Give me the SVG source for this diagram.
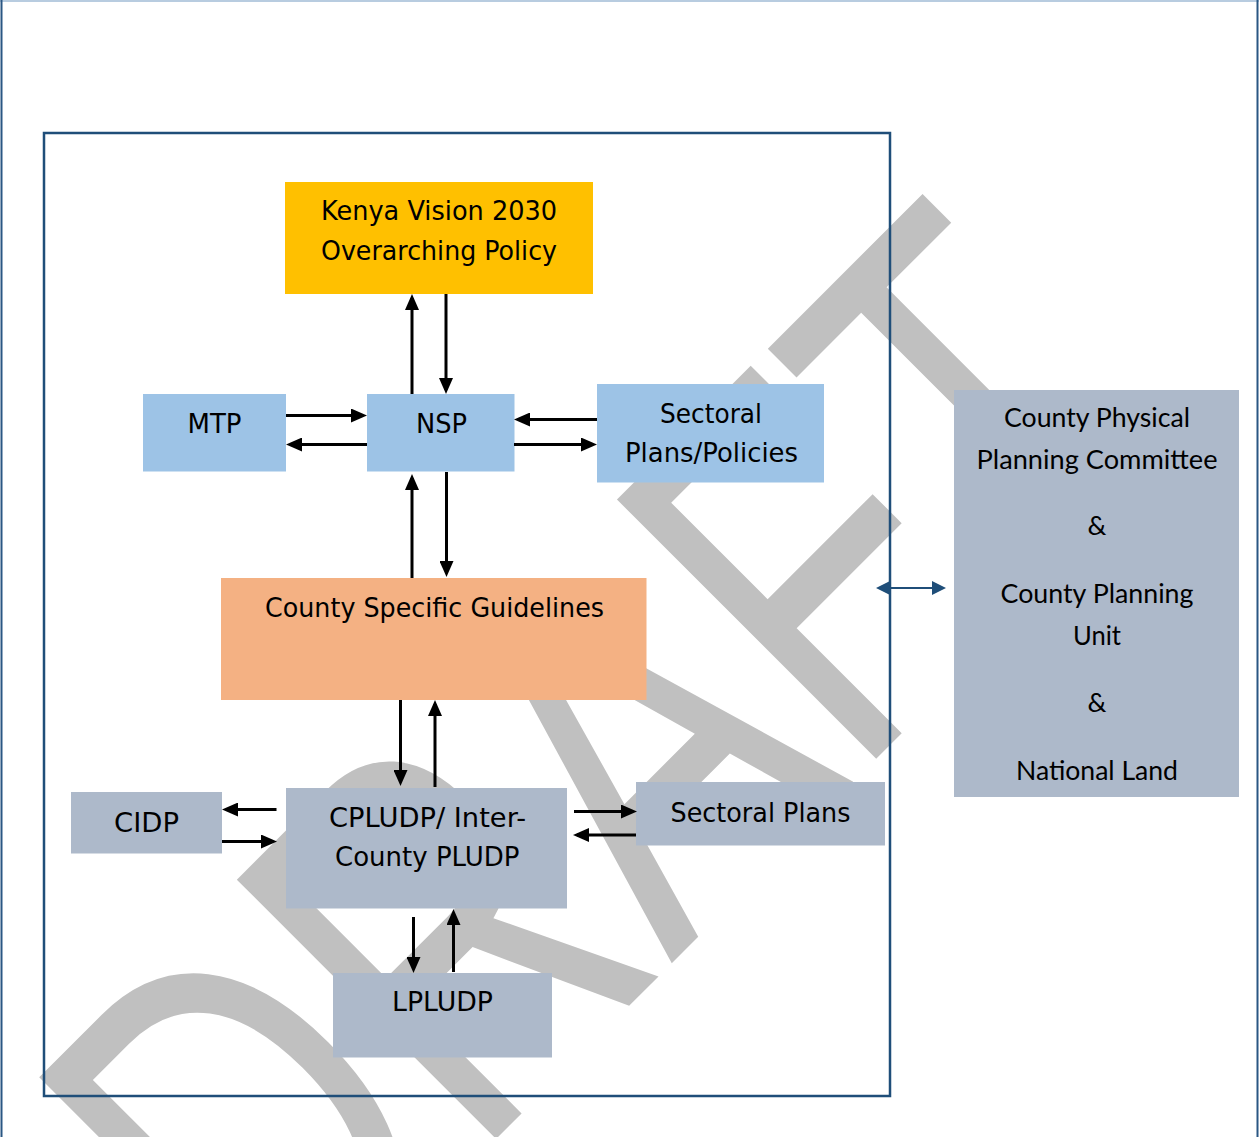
<svg xmlns="http://www.w3.org/2000/svg" width="1259" height="1137" viewBox="0 0 1259 1137">
<style>
.t{font-family:"DejaVu Sans","Liberation Sans",sans-serif;font-size:27px;fill:#000}
.c{font-family:Lato,"Open Sans","Liberation Sans",sans-serif;font-size:26.5px;fill:#000;text-anchor:middle}
.blue{fill:#9dc3e6}.gold{fill:#ffc000}.orange{fill:#f4b183}.grey{fill:#adb9ca}
.ar{stroke:#000;stroke-width:3;fill:none;marker-end:url(#ah)}
</style>
<defs>
<marker id="ah" markerUnits="userSpaceOnUse" viewBox="0 0 16 14" markerWidth="16" markerHeight="14" refX="12" refY="7" orient="auto"><path d="M0,0 L16,7 L0,14 Z" fill="#000"/></marker>
<marker id="bh" markerUnits="userSpaceOnUse" viewBox="0 0 14 14" markerWidth="14" markerHeight="14" refX="11" refY="7" orient="auto-start-reverse"><path d="M0,0 L14,7 L0,14 Z" fill="#1f4e79"/></marker>
</defs>
<rect width="1259" height="1137" fill="#fff"/>
<g id="watermark">
<text transform="translate(276,1359) rotate(-45) scale(1,1.377)" font-family="Liberation Sans, Arial, sans-serif" font-size="387" fill="#c0c0c0">DRAFT</text>
</g>
<g id="page-border" fill="none">
<line x1="0" y1="1" x2="1259" y2="1" stroke="#b8cce0" stroke-width="2"/>
<line x1="1.5" y1="0" x2="1.5" y2="1137" stroke="#2a5783" stroke-width="2"/>
<line x1="1257.5" y1="0" x2="1257.5" y2="1137" stroke="#2a5783" stroke-width="2"/>
</g>
<g id="frame"><rect x="44" y="133" width="846" height="963" fill="none" stroke="#1f4e79" stroke-width="2.5"/></g>
<g id="vision"><rect class="gold" x="285" y="182" width="308" height="112"/>
<text class="t" x="321" y="219.5" font-size="26" textLength="236" lengthAdjust="spacingAndGlyphs">Kenya Vision 2030</text>
<text class="t" x="321" y="259.5" font-size="26" textLength="236" lengthAdjust="spacingAndGlyphs">Overarching Policy</text></g>
<g id="mtp"><rect class="blue" x="143" y="394" width="143" height="77.5"/>
<text class="t" x="187.5" y="432.5" textLength="54" lengthAdjust="spacingAndGlyphs">MTP</text></g>
<g id="nsp"><rect class="blue" x="367" y="394" width="147.5" height="77.5"/>
<text class="t" x="416" y="432.5" textLength="51" lengthAdjust="spacingAndGlyphs">NSP</text></g>
<g id="sectoral-policies"><rect class="blue" x="597" y="384" width="227" height="98.5"/>
<text class="t" x="660" y="422.5" textLength="102" lengthAdjust="spacingAndGlyphs">Sectoral</text>
<text class="t" x="625" y="462" textLength="173" lengthAdjust="spacingAndGlyphs">Plans/Policies</text></g>
<g id="csg"><rect class="orange" x="221" y="578" width="425.5" height="122"/>
<text class="t" x="265" y="617" textLength="339" lengthAdjust="spacingAndGlyphs">County Specific Guidelines</text></g>
<g id="cidp"><rect class="grey" x="71" y="792" width="151" height="61.5"/>
<text class="t" x="114" y="831.5" textLength="65" lengthAdjust="spacingAndGlyphs">CIDP</text></g>
<g id="cpludp"><rect class="grey" x="286" y="788" width="281" height="120.5"/>
<text class="t" x="329" y="826.5" textLength="197" lengthAdjust="spacingAndGlyphs">CPLUDP/ Inter-</text>
<text class="t" x="335" y="865.5" textLength="184.5" lengthAdjust="spacingAndGlyphs">County PLUDP</text></g>
<g id="sectoral-plans"><rect class="grey" x="636" y="782" width="249" height="63.5"/>
<text class="t" x="670.5" y="821.5" textLength="180" lengthAdjust="spacingAndGlyphs">Sectoral Plans</text></g>
<g id="lpludp"><rect class="grey" x="333" y="973" width="219" height="84.5"/>
<text class="t" x="392" y="1010.5" textLength="101" lengthAdjust="spacingAndGlyphs">LPLUDP</text></g>
<g id="committee"><rect class="grey" x="954" y="390" width="285" height="407"/>
<text class="c" x="1097" y="426.5" textLength="186" lengthAdjust="spacingAndGlyphs">County Physical</text>
<text class="c" x="1097" y="469" textLength="241" lengthAdjust="spacingAndGlyphs">Planning Committee</text>
<text class="c" x="1097" y="535">&amp;</text>
<text class="c" x="1097" y="602.5" textLength="193" lengthAdjust="spacingAndGlyphs">County Planning</text>
<text class="c" x="1097" y="645" textLength="48" lengthAdjust="spacingAndGlyphs">Unit</text>
<text class="c" x="1097" y="711.5">&amp;</text>
<text class="c" x="1097" y="780" textLength="162" lengthAdjust="spacingAndGlyphs">National Land</text></g>
<g id="connectors">
<line class="ar" x1="412" y1="394" x2="412" y2="298"/>
<line class="ar" x1="446" y1="294" x2="446" y2="390"/>
<line class="ar" x1="286" y1="415.5" x2="363" y2="415.5"/>
<line class="ar" x1="367" y1="444.5" x2="290" y2="444.5"/>
<line class="ar" x1="597" y1="419.5" x2="518" y2="419.5"/>
<line class="ar" x1="514" y1="444.5" x2="593" y2="444.5"/>
<line class="ar" x1="446.5" y1="472" x2="446.5" y2="573"/>
<line class="ar" x1="412" y1="578" x2="412" y2="478"/>
<line class="ar" x1="400.5" y1="700" x2="400.5" y2="782"/>
<line class="ar" x1="435" y1="787" x2="435" y2="704"/>
<line class="ar" x1="276.5" y1="809.5" x2="226" y2="809.5"/>
<line class="ar" x1="222" y1="841.5" x2="273" y2="841.5"/>
<line class="ar" x1="574" y1="811.5" x2="633" y2="811.5"/>
<line class="ar" x1="636" y1="835" x2="577" y2="835"/>
<line class="ar" x1="413.5" y1="917" x2="413.5" y2="969"/>
<line class="ar" x1="453.5" y1="972" x2="453.5" y2="913"/>
<line x1="879" y1="588" x2="943" y2="588" stroke="#1f4e79" stroke-width="2" marker-start="url(#bh)" marker-end="url(#bh)"/>
</g>
</svg>
